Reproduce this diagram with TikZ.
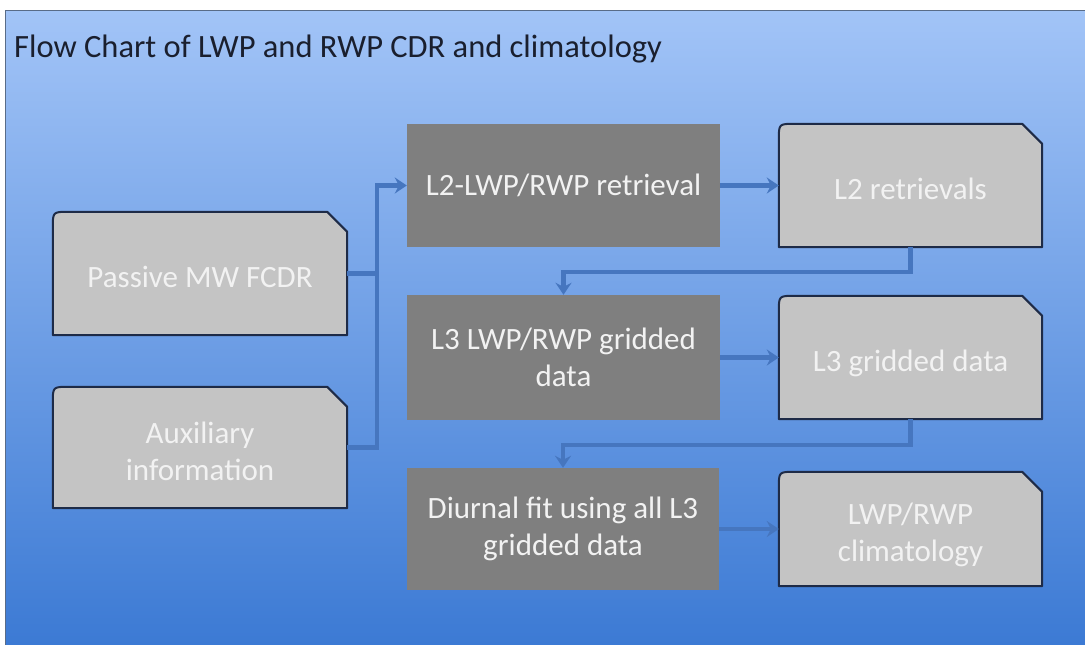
\documentclass[tikz,border=0pt]{standalone}
\usepackage{fontspec}
\setmainfont{Carlito}
\usetikzlibrary{arrows.meta,calc}
\pgfdeclarelayer{bgl}
\pgfdeclarelayer{shp}
\pgfsetlayers{bgl,shp,main}
\definecolor{bgtop}{HTML}{A2C4F7}
\definecolor{bgbot}{HTML}{3C7AD4}
\definecolor{lfill}{HTML}{C4C4C4}
\definecolor{dfill}{HTML}{7F7F7F}
\definecolor{navy}{HTML}{1E2B47}
\definecolor{connc}{HTML}{4676BF}
\definecolor{ttlc}{HTML}{1A1F2E}
\definecolor{txtc}{HTML}{F2F2F2}
\newcommand\dn[1]{\raisebox{-7pt}[\height][\depth]{\begin{tabular}{@{}c@{}}#1\end{tabular}}}
\newcommand\snipshape[1]{%
  \begin{pgfonlayer}{shp}
  \filldraw[shapeln] (#1.south west) -- (#1.south east) -- ([yshift=-20pt]#1.north east)
    -- ([xshift=-20pt]#1.north east) -- ([xshift=16pt]#1.north west)
    .. controls (#1.north west) .. ([yshift=-16pt]#1.north west) -- cycle;
  \end{pgfonlayer}}
\tikzset{
  basetext/.style={font=\fontsize{31}{37}\selectfont, text=txtc, inner sep=0pt, align=center},
  lbox/.style={basetext},
  dbox/.style={basetext, fill=dfill},
  shapeln/.style={fill=lfill, draw=navy, line width=2pt, line join=round},
  cline/.style={draw=connc, line width=4.5pt},
  carrow/.style={cline, -{Stealth[length=12pt,width=16pt,inset=4pt]}},
  ttlstyle/.style={font=\fontsize{32.5}{38}\selectfont, text=ttlc, inner sep=0pt}
}
\begin{document}
\begin{tikzpicture}[x=1pt,y=-1pt]
\useasboundingbox (0,0) rectangle (1085,645);
\begin{pgfonlayer}{bgl}
  \fill[white] (0,0) rectangle (1085,645);
  \shade[top color=bgtop, bottom color=bgbot] (5,10) rectangle (1085,645);
  \draw[draw=black!45!bgtop, line width=1pt] (5,645) -- (5,10) -- (1085,10);
\end{pgfonlayer}

\node[ttlstyle, anchor=base west] (ttl) at (14,57) {Flow Chart of LWP and RWP CDR and climatology};

\node[lbox, minimum width=294pt, minimum height=123pt] (pmw) at (200,273.5) {\dn{Passive MW FCDR}};
\node[lbox, minimum width=294pt, minimum height=121pt] (aux) at (200,447.5) {\dn{Auxiliary\\information}};
\node[dbox, minimum width=313pt, minimum height=123pt] (l2r) at (563.5,185.5) {L2-LWP/RWP retrieval};
\node[lbox, minimum width=263pt, minimum height=123pt] (l2d) at (910.5,185.5) {\dn{L2 retrievals}};
\node[dbox, minimum width=313pt, minimum height=125pt] (l3r) at (563.5,357.5) {L3 LWP/RWP gridded\\data};
\node[lbox, minimum width=263pt, minimum height=123pt] (l3d) at (910.5,357.5) {\dn{L3 gridded data}};
\node[dbox, minimum width=312pt, minimum height=122pt] (dfit) at (563,529) {Diurnal fit using all L3\\gridded data};
\node[lbox, minimum width=263pt, minimum height=114pt] (clim) at (910.5,529) {\dn{LWP/RWP\\climatology}};

\snipshape{pmw}
\snipshape{aux}
\snipshape{l2d}
\snipshape{l3d}
\snipshape{clim}

\path (l2r.west) -- ++(-30,0) coordinate (j);
\draw[cline] (pmw.east) -| (j);
\draw[carrow] (aux.east) -| (j) -- (l2r.west);
\draw[carrow] (l2r.east) -- (l2d.west);
\draw[carrow] (l2d.south) -- ++(0,25) -| (l3r.north);
\draw[carrow] (l3r.east) -- (l3d.west);
\draw[carrow] (l3d.south) -- ++(0,26) -| (dfit.north);
\draw[carrow] (dfit.east) -- (clim.west);
\end{tikzpicture}
\end{document}
